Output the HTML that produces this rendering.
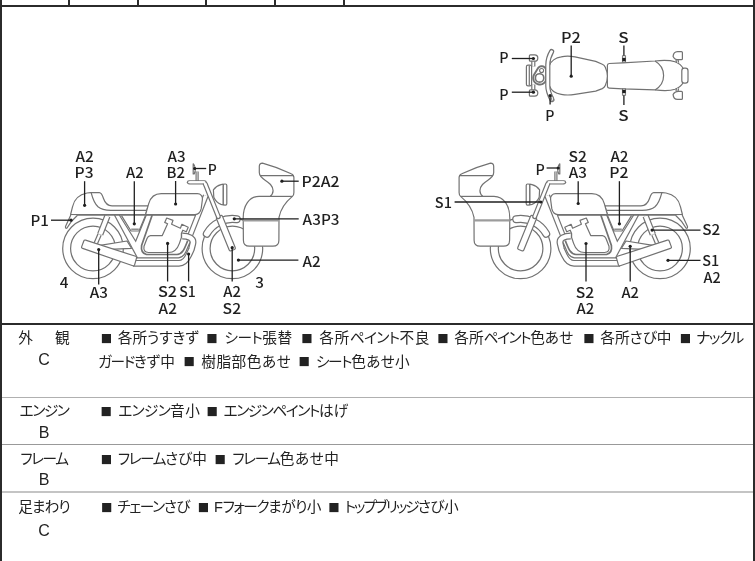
<!DOCTYPE html>
<html lang="ja">
<head>
<meta charset="utf-8">
<title>車両状態</title>
<style>
html,body{margin:0;padding:0;background:#fff;}
#page{position:absolute;left:0;top:0;width:755px;height:561px;will-change:transform;}
body{width:755px;height:561px;overflow:hidden;position:relative;font-family:"Liberation Sans","Noto Sans CJK JP",sans-serif;color:#222;}
.ln{position:absolute;background:#2b2b2b;}
.gl{position:absolute;background:#b0b0b0;height:1px;left:2px;width:751px;}
.row{position:absolute;left:0;width:755px;font-size:14.67px;line-height:23.5px;font-feature-settings:"palt";font-weight:400;}
.lab{position:absolute;left:2px;width:84px;text-align:center;}
.grade{position:absolute;left:3px;width:82px;text-align:center;font-size:16px;top:19.5px;}
.txt{position:absolute;left:0;top:0;width:755px;height:23.5px;white-space:nowrap;}
.seg{position:absolute;top:0;white-space:nowrap;}
.sq{font-family:"Noto Sans CJK JP",sans-serif;display:inline-block;width:14.67px;text-align:center;font-size:11.4px;line-height:12px;vertical-align:0.1px;font-feature-settings:normal;}
.k{letter-spacing:-1.4px;}
#dia{position:absolute;left:0;top:0;}
</style>
</head>
<body>
<div id="page">
<!-- frame lines -->
<div class="ln" style="left:0;top:0;width:2px;height:561px"></div>
<div class="ln" style="left:753px;top:0;width:2px;height:561px"></div>
<div class="ln" style="left:0;top:5px;width:755px;height:2px"></div>
<div class="ln" style="left:0;top:323px;width:755px;height:2px"></div>
<div class="ln" style="left:68px;top:0;width:2px;height:6px"></div>
<div class="ln" style="left:137px;top:0;width:2px;height:6px"></div>
<div class="ln" style="left:205px;top:0;width:2px;height:6px"></div>
<div class="ln" style="left:274px;top:0;width:2px;height:6px"></div>
<div class="ln" style="left:343px;top:0;width:2px;height:6px"></div>
<div class="gl" style="top:397px"></div>
<div class="gl" style="top:444px;background:#999"></div>
<div class="gl" style="top:491px;height:2px;background:#c4c4c4"></div>

<div class="row" style="top:327px">
  <div class="lab">外<span style="margin-left:22px">観</span></div>
  <div class="grade" style="top:20.5px">C</div>
  <div class="txt"><span class="seg" style="left:99.0px"><span class="sq">■</span> 各所うすきず</span><span class="seg" style="left:205.0px;letter-spacing:0.7px"><span class="sq">■</span> <span class="k" style="letter-spacing:-0.5px">シート</span>張替</span><span class="seg" style="left:300.0px;letter-spacing:0.6px"><span class="sq">■</span> 各所<span class="k" style="letter-spacing:-0.65px">ペイント</span>不良</span><span class="seg" style="left:435.6px"><span class="sq">■</span> 各所<span class="k">ペイント</span>色あせ</span><span class="seg" style="left:581.6px"><span class="sq">■</span> 各所さび中</span><span class="seg" style="left:678.0px;letter-spacing:-0.4px"><span class="sq">■</span> <span class="k">ナックル</span></span></div>
  <div class="txt" style="top:23.5px"><span class="seg" style="left:98.0px"><span class="k">ガード</span>きず中</span><span class="seg" style="left:182.0px;letter-spacing:0.5px"><span class="sq">■</span> 樹脂部色あせ</span><span class="seg" style="left:297.0px;letter-spacing:0.3px"><span class="sq">■</span> <span class="k">シート</span>色あせ小</span></div>
</div>
<div class="row" style="top:400px">
  <div class="lab"><span class="k">エンジン</span></div>
  <div class="grade" style="top:20.8px">B</div>
  <div class="txt"><span class="seg" style="left:99.0px;letter-spacing:0.5px"><span class="sq">■</span> <span class="k" style="letter-spacing:-0.65px">エンジン</span>音小</span><span class="seg" style="left:204.8px"><span class="sq">■</span> <span class="k">エンジンペイント</span>はげ</span></div>
</div>
<div class="row" style="top:448px">
  <div class="lab"><span class="k">フレーム</span></div>
  <div class="grade" style="top:19.5px">B</div>
  <div class="txt"><span class="seg" style="left:99.0px"><span class="sq">■</span> <span class="k">フレーム</span>さび中</span><span class="seg" style="left:213.2px;letter-spacing:0.5px"><span class="sq">■</span> <span class="k">フレーム</span>色あせ中</span></div>
</div>
<div class="row" style="top:496px">
  <div class="lab" style="letter-spacing:-0.9px">足まわり</div>
  <div class="grade" style="top:22.5px">C</div>
  <div class="txt"><span class="seg" style="left:99.0px;letter-spacing:-0.5px"><span class="sq">■</span> <span class="k">チェーン</span>さび</span><span class="seg" style="left:195.8px;letter-spacing:-0.5px"><span class="sq">■</span> F<span class="k">フォーク</span>まがり小</span><span class="seg" style="left:326.4px;letter-spacing:-0.45px"><span class="sq">■</span> <span class="k" style="letter-spacing:-2.0px">トップブリッジ</span>さび小</span></div>
</div>

<svg id="dia" width="755" height="323" viewBox="0 0 755 323" font-family="'Noto Sans CJK JP','Liberation Sans',sans-serif" font-weight="500" fill="#1f1f1f">
<g id="bikeL">
<circle cx="93" cy="248.4" r="30.3" fill="none" stroke="#727272" stroke-width="1.2"/>
<circle cx="93" cy="248.5" r="22.4" fill="none" stroke="#727272" stroke-width="1.2"/>
<circle cx="232.4" cy="248.4" r="30.3" fill="none" stroke="#727272" stroke-width="1.2"/>
<circle cx="232.4" cy="248.5" r="22.3" fill="none" stroke="#727272" stroke-width="1.2"/>
<path d="M100,245.3 L127,241 L131.5,248.3 L104,249.6 Z" fill="#fff" stroke="#727272" stroke-width="1.2" stroke-linejoin="round" />
<path d="M99.6,234.5 L95.5,244" fill="none" stroke="#727272" stroke-width="4.6" stroke-linecap="butt" stroke-linejoin="round"/>
<path d="M99.6,234.5 L95.5,244" fill="none" stroke="#fff" stroke-width="2.2" stroke-linecap="butt" stroke-linejoin="round"/>
<path d="M107.4,216 L100.2,234.3" fill="none" stroke="#727272" stroke-width="6.4" stroke-linecap="butt" stroke-linejoin="round"/>
<path d="M107.4,216 L100.2,234.3" fill="none" stroke="#fff" stroke-width="4.0" stroke-linecap="butt" stroke-linejoin="round"/>
<path d="M114.4,215 L137.5,258 L146,258 L146,254.5 Q141,253 141.4,246.3 L152.2,215 Z" fill="#fff" stroke="none" stroke-width="1.2" stroke-linejoin="round" />
<path d="M114.4,215 L137.5,258" fill="none" stroke="#727272" stroke-width="1.2" />
<path d="M119.3,215 L135.7,241.3 L146.3,215" fill="none" stroke="#727272" stroke-width="1.2" />
<path d="M121.5,215.6 L131,231 L139,231 L145.5,215.6" fill="#fff" stroke="#727272" stroke-width="1.2" stroke-linejoin="round" />
<path d="M131.2,229.2 L138.8,229.2" fill="none" stroke="#727272" stroke-width="1.2" />
<path d="M152.2,215 L141.6,245.5 Q140.5,253 146.5,254.5 L177,254.5 C183,254.5 185,247 187.7,240.7" fill="none" stroke="#727272" stroke-width="1.7" />
<path d="M150.5,235.6 L162.3,235.6 L167.6,223.8 L164.7,222.4 L166.7,218 L173,220.4 L171.6,224.3 L180.4,228.2 L181.9,224.3 L188.2,227.3 L186.3,231.7 L182.8,230.2 L181.4,233.6 L181.4,237.5 L179.4,243.4 C177.5,249 174,252.5 168.5,252.5 L148.5,252.5 Q143,252.3 144,246.3 L147,238.5 Q148,235.8 150.5,235.6 Z" fill="#fff" stroke="#727272" stroke-width="1.2" stroke-linejoin="round" />
<path d="M205.8,195.7 L190.3,235" fill="none" stroke="#727272" stroke-width="5.9" stroke-linecap="butt" stroke-linejoin="round"/>
<path d="M205.8,195.7 L190.3,235" fill="none" stroke="#fff" stroke-width="3.5" stroke-linecap="butt" stroke-linejoin="round"/>
<path d="M134,257.8 L178.5,257.8 C184,257.3 186,252 187.7,247.4 L189.9,242.6" fill="none" stroke="#727272" stroke-width="1.2" />
<path d="M182.2,236 C188,236 194,238 192.9,243.4 L191.4,249.3 L188.7,255.2 C186.5,260 184,263.3 179,263.3 L133,263.3" fill="none" stroke="#727272" stroke-width="6.8" stroke-linecap="butt" stroke-linejoin="round"/>
<path d="M182.2,236 C188,236 194,238 192.9,243.4 L191.4,249.3 L188.7,255.2 C186.5,260 184,263.3 179,263.3 L133,263.3" fill="none" stroke="#fff" stroke-width="4.3999999999999995" stroke-linecap="butt" stroke-linejoin="round"/>
<path d="M85.6,240.1 L135.6,256.3 Q136.9,256.8 136.5,258.2 L134.6,264.8 Q134.2,266.1 132.8,265.7 L82.6,248.4 Q81.2,247.9 81.7,246.6 L83.8,241 Q84.3,239.7 85.6,240.1 Z" fill="#fff" stroke="#727272" stroke-width="1.2" stroke-linejoin="round" />
<path d="M70.6,214.7 L196,214.7" fill="none" stroke="#727272" stroke-width="1.9" />
<path d="M70.8,215 L65.5,226.5 Q65.3,229 67,228 C69.5,223.5 72.5,219.5 77.5,215.2" fill="#fff" stroke="#727272" stroke-width="1.2" stroke-linejoin="round" />
<path d="M70.6,214.5 L72.5,206.8 C74,200 79,194.5 87,193 L90.6,192.7 L99.3,192.7 C101.5,192.7 102.5,195.5 103.5,198.5 C105,203 107,205.8 112,205.8 L148,205.8 L145.7,214.5 Z" fill="#fff" stroke="#727272" stroke-width="1.2" stroke-linejoin="round" />
<path d="M91.2,192.9 C92.5,198 94.5,203.5 98,206.8 C101,209.5 106,210.3 111,210.3 L146.5,210.3" fill="none" stroke="#727272" stroke-width="1.2" />
<path d="M145.6,214.6 L148.7,203.7 C150.5,197.5 154.5,193.7 161.2,193.7 L197.4,193.7 C200.5,193.7 203,196 202.4,199.5 L201.2,208.7 C200.5,212 198.5,214.5 195,214.7 Z" fill="#fff" stroke="#727272" stroke-width="1.2" stroke-linejoin="round" />
<path d="M206.85,233.65 A29.5,29.5 0 0 1 236.76,219.22" fill="none" stroke="#727272" stroke-width="8.1" stroke-linecap="round" stroke-linejoin="round"/>
<path d="M206.85,233.65 A29.5,29.5 0 0 1 236.76,219.22" fill="none" stroke="#fff" stroke-width="5.7" stroke-linecap="round" stroke-linejoin="round"/>
<path d="M213.4,189.8 C215,187.6 218,185.4 221,184.6 L223.3,184.1 L223.3,205 L221,204.4 C218,203.3 215.3,200.8 213.8,197.3 Z" fill="#fff" stroke="#727272" stroke-width="1.2" stroke-linejoin="round" />
<rect x="223.3" y="184" width="3.5" height="21.1" rx="1.4" fill="#fff" stroke="#727272" stroke-width="1.2"/>
<path d="M197.1,171.5 L197.1,181" fill="none" stroke="#727272" stroke-width="3.2" stroke-linecap="butt" stroke-linejoin="round"/>
<path d="M197.1,171.5 L197.1,181" fill="none" stroke="#fff" stroke-width="0.8" stroke-linecap="butt" stroke-linejoin="round"/>
<path d="M193.2,163.8 C195.8,166 195.8,171.5 194.2,174 L193.2,174 Z" fill="#fff" stroke="#727272" stroke-width="1.2" stroke-linejoin="round" />
<rect x="207.45" y="229.9" width="36.8" height="6.5" rx="1.6" fill="#fff" stroke="#727272" stroke-width="1.2" transform="rotate(67.8 225.85 233.15)"/>
<path d="M189,182.3 L204.6,182.3" fill="none" stroke="#727272" stroke-width="4.3" stroke-linecap="round" stroke-linejoin="round"/>
<path d="M189,182.3 L204.6,182.3" fill="none" stroke="#fff" stroke-width="1.9000000000000001" stroke-linecap="round" stroke-linejoin="round"/>
<path d="M205.3,184 L218.3,216.6" fill="none" stroke="#727272" stroke-width="5.0" stroke-linecap="round" stroke-linejoin="round"/>
<path d="M205.3,184 L218.3,216.6" fill="none" stroke="#fff" stroke-width="2.5999999999999996" stroke-linecap="round" stroke-linejoin="round"/>
<path d="M190,182.3 L204.2,182.3 L205.6,184.8" fill="none" stroke="#fff" stroke-width="1.9" stroke-linecap="round" stroke-linejoin="round"/>
<path d="M259.3,166.5 Q259.3,163.1 262.5,163.1 Q277,167 291.2,173.7 Q293.9,174.8 293.9,177.5 L293.9,192.4 Q293.9,195 292.4,196.4 C288,200 281,207 279,217.4 L278.9,240.2 Q278.9,246.2 272.9,246.2 L249.4,246.2 Q243.4,246.2 243.4,240.2 L243.2,218 C243.2,206 249,196.4 259,196.4 L270,196.4 C274,193.5 274,188.5 270.5,184.5 C266,179.5 259.3,178.5 259.3,172.5 Z" fill="#fff" stroke="#727272" stroke-width="1.2" stroke-linejoin="round" />
<path d="M260,175.6 L293.5,175.6" fill="none" stroke="#727272" stroke-width="1.2" />
<path d="M270,196.4 L292.4,196.4" fill="none" stroke="#727272" stroke-width="1.2" />
<path d="M243.4,220.3 L278.9,220.3" fill="none" stroke="#9c9c9c" stroke-width="2.2" />
</g>
<g transform="translate(753 0) scale(-1 1)">
<g id="bikeL">
<circle cx="93" cy="248.4" r="30.3" fill="none" stroke="#727272" stroke-width="1.2"/>
<circle cx="93" cy="248.5" r="22.4" fill="none" stroke="#727272" stroke-width="1.2"/>
<circle cx="232.4" cy="248.4" r="30.3" fill="none" stroke="#727272" stroke-width="1.2"/>
<circle cx="232.4" cy="248.5" r="22.3" fill="none" stroke="#727272" stroke-width="1.2"/>
<path d="M100,245.3 L127,241 L131.5,248.3 L104,249.6 Z" fill="#fff" stroke="#727272" stroke-width="1.2" stroke-linejoin="round" />
<path d="M99.6,234.5 L95.5,244" fill="none" stroke="#727272" stroke-width="4.6" stroke-linecap="butt" stroke-linejoin="round"/>
<path d="M99.6,234.5 L95.5,244" fill="none" stroke="#fff" stroke-width="2.2" stroke-linecap="butt" stroke-linejoin="round"/>
<path d="M107.4,216 L100.2,234.3" fill="none" stroke="#727272" stroke-width="6.4" stroke-linecap="butt" stroke-linejoin="round"/>
<path d="M107.4,216 L100.2,234.3" fill="none" stroke="#fff" stroke-width="4.0" stroke-linecap="butt" stroke-linejoin="round"/>
<path d="M114.4,215 L137.5,258 L146,258 L146,254.5 Q141,253 141.4,246.3 L152.2,215 Z" fill="#fff" stroke="none" stroke-width="1.2" stroke-linejoin="round" />
<path d="M114.4,215 L137.5,258" fill="none" stroke="#727272" stroke-width="1.2" />
<path d="M119.3,215 L135.7,241.3 L146.3,215" fill="none" stroke="#727272" stroke-width="1.2" />
<path d="M121.5,215.6 L131,231 L139,231 L145.5,215.6" fill="#fff" stroke="#727272" stroke-width="1.2" stroke-linejoin="round" />
<path d="M131.2,229.2 L138.8,229.2" fill="none" stroke="#727272" stroke-width="1.2" />
<path d="M152.2,215 L141.6,245.5 Q140.5,253 146.5,254.5 L177,254.5 C183,254.5 185,247 187.7,240.7" fill="none" stroke="#727272" stroke-width="1.7" />
<path d="M150.5,235.6 L162.3,235.6 L167.6,223.8 L164.7,222.4 L166.7,218 L173,220.4 L171.6,224.3 L180.4,228.2 L181.9,224.3 L188.2,227.3 L186.3,231.7 L182.8,230.2 L181.4,233.6 L181.4,237.5 L179.4,243.4 C177.5,249 174,252.5 168.5,252.5 L148.5,252.5 Q143,252.3 144,246.3 L147,238.5 Q148,235.8 150.5,235.6 Z" fill="#fff" stroke="#727272" stroke-width="1.2" stroke-linejoin="round" />
<path d="M205.8,195.7 L190.3,235" fill="none" stroke="#727272" stroke-width="5.9" stroke-linecap="butt" stroke-linejoin="round"/>
<path d="M205.8,195.7 L190.3,235" fill="none" stroke="#fff" stroke-width="3.5" stroke-linecap="butt" stroke-linejoin="round"/>
<path d="M134,257.8 L178.5,257.8 C184,257.3 186,252 187.7,247.4 L189.9,242.6" fill="none" stroke="#727272" stroke-width="1.2" />
<path d="M182.2,236 C188,236 194,238 192.9,243.4 L191.4,249.3 L188.7,255.2 C186.5,260 184,263.3 179,263.3 L133,263.3" fill="none" stroke="#727272" stroke-width="6.8" stroke-linecap="butt" stroke-linejoin="round"/>
<path d="M182.2,236 C188,236 194,238 192.9,243.4 L191.4,249.3 L188.7,255.2 C186.5,260 184,263.3 179,263.3 L133,263.3" fill="none" stroke="#fff" stroke-width="4.3999999999999995" stroke-linecap="butt" stroke-linejoin="round"/>
<path d="M85.6,240.1 L135.6,256.3 Q136.9,256.8 136.5,258.2 L134.6,264.8 Q134.2,266.1 132.8,265.7 L82.6,248.4 Q81.2,247.9 81.7,246.6 L83.8,241 Q84.3,239.7 85.6,240.1 Z" fill="#fff" stroke="#727272" stroke-width="1.2" stroke-linejoin="round" />
<path d="M70.6,214.7 L196,214.7" fill="none" stroke="#727272" stroke-width="1.9" />
<path d="M70.8,215 L65.5,226.5 Q65.3,229 67,228 C69.5,223.5 72.5,219.5 77.5,215.2" fill="#fff" stroke="#727272" stroke-width="1.2" stroke-linejoin="round" />
<path d="M70.6,214.5 L72.5,206.8 C74,200 79,194.5 87,193 L90.6,192.7 L99.3,192.7 C101.5,192.7 102.5,195.5 103.5,198.5 C105,203 107,205.8 112,205.8 L148,205.8 L145.7,214.5 Z" fill="#fff" stroke="#727272" stroke-width="1.2" stroke-linejoin="round" />
<path d="M91.2,192.9 C92.5,198 94.5,203.5 98,206.8 C101,209.5 106,210.3 111,210.3 L146.5,210.3" fill="none" stroke="#727272" stroke-width="1.2" />
<path d="M145.6,214.6 L148.7,203.7 C150.5,197.5 154.5,193.7 161.2,193.7 L197.4,193.7 C200.5,193.7 203,196 202.4,199.5 L201.2,208.7 C200.5,212 198.5,214.5 195,214.7 Z" fill="#fff" stroke="#727272" stroke-width="1.2" stroke-linejoin="round" />
<path d="M206.85,233.65 A29.5,29.5 0 0 1 236.76,219.22" fill="none" stroke="#727272" stroke-width="8.1" stroke-linecap="round" stroke-linejoin="round"/>
<path d="M206.85,233.65 A29.5,29.5 0 0 1 236.76,219.22" fill="none" stroke="#fff" stroke-width="5.7" stroke-linecap="round" stroke-linejoin="round"/>
<path d="M213.4,189.8 C215,187.6 218,185.4 221,184.6 L223.3,184.1 L223.3,205 L221,204.4 C218,203.3 215.3,200.8 213.8,197.3 Z" fill="#fff" stroke="#727272" stroke-width="1.2" stroke-linejoin="round" />
<rect x="223.3" y="184" width="3.5" height="21.1" rx="1.4" fill="#fff" stroke="#727272" stroke-width="1.2"/>
<path d="M197.1,171.5 L197.1,181" fill="none" stroke="#727272" stroke-width="3.2" stroke-linecap="butt" stroke-linejoin="round"/>
<path d="M197.1,171.5 L197.1,181" fill="none" stroke="#fff" stroke-width="0.8" stroke-linecap="butt" stroke-linejoin="round"/>
<path d="M193.2,163.8 C195.8,166 195.8,171.5 194.2,174 L193.2,174 Z" fill="#fff" stroke="#727272" stroke-width="1.2" stroke-linejoin="round" />
<rect x="207.45" y="229.9" width="36.8" height="6.5" rx="1.6" fill="#fff" stroke="#727272" stroke-width="1.2" transform="rotate(67.8 225.85 233.15)"/>
<path d="M189,182.3 L204.6,182.3" fill="none" stroke="#727272" stroke-width="4.3" stroke-linecap="round" stroke-linejoin="round"/>
<path d="M189,182.3 L204.6,182.3" fill="none" stroke="#fff" stroke-width="1.9000000000000001" stroke-linecap="round" stroke-linejoin="round"/>
<path d="M205.3,184 L218.3,216.6" fill="none" stroke="#727272" stroke-width="5.0" stroke-linecap="round" stroke-linejoin="round"/>
<path d="M205.3,184 L218.3,216.6" fill="none" stroke="#fff" stroke-width="2.5999999999999996" stroke-linecap="round" stroke-linejoin="round"/>
<path d="M190,182.3 L204.2,182.3 L205.6,184.8" fill="none" stroke="#fff" stroke-width="1.9" stroke-linecap="round" stroke-linejoin="round"/>
<path d="M259.3,166.5 Q259.3,163.1 262.5,163.1 Q277,167 291.2,173.7 Q293.9,174.8 293.9,177.5 L293.9,192.4 Q293.9,195 292.4,196.4 C288,200 281,207 279,217.4 L278.9,240.2 Q278.9,246.2 272.9,246.2 L249.4,246.2 Q243.4,246.2 243.4,240.2 L243.2,218 C243.2,206 249,196.4 259,196.4 L270,196.4 C274,193.5 274,188.5 270.5,184.5 C266,179.5 259.3,178.5 259.3,172.5 Z" fill="#fff" stroke="#727272" stroke-width="1.2" stroke-linejoin="round" />
<path d="M260,175.6 L293.5,175.6" fill="none" stroke="#727272" stroke-width="1.2" />
<path d="M270,196.4 L292.4,196.4" fill="none" stroke="#727272" stroke-width="1.2" />
<path d="M243.4,220.3 L278.9,220.3" fill="none" stroke="#9c9c9c" stroke-width="2.2" />
</g>
</g>
<g id="bikeT">
<path d="M609.2,63.5 L622.8,62.8 L655,61 C662,60.2 670,60.2 675,61.8 C679,63.2 682,66 683.7,69.3 L683.7,81.8 C682,85 679,87.9 675,89.3 C670,90.9 662,90.7 655,89.9 L622.8,88.9 L609.2,88.1 Q607.4,88 607.4,86 L607.4,65.5 Q607.4,63.6 609.2,63.5 Z" fill="#fff" stroke="#727272" stroke-width="1.2" stroke-linejoin="round" />
<path d="M655,61 C661,64.5 663.6,70 663.6,75.5 C663.6,81 661,86.5 655,89.9" fill="none" stroke="#727272" stroke-width="1.2" />
<rect x="681.8" y="68.1" width="6.2" height="15" rx="2.6" fill="#fff" stroke="#727272" stroke-width="1.2"/>
<path d="M677,59.7 L677.6,62.8" fill="none" stroke="#727272" stroke-width="3.2" stroke-linecap="butt" stroke-linejoin="round"/>
<path d="M677,59.7 L677.6,62.8" fill="none" stroke="#fff" stroke-width="0.8" stroke-linecap="butt" stroke-linejoin="round"/>
<path d="M673.1,56.4 C673.3,54.0 674.5,51.7 677.5,51.6 L681.4,51.6 Q682.4,51.6 682.4,52.6 L682.4,58.7 Q682.4,59.7 681.4,59.7 L678.5,59.7 C676,59.7 674,58.5 673.1,56.4 Z" fill="#fff" stroke="#727272" stroke-width="1.2" stroke-linejoin="round" />
<path d="M677,91.3 L677.6,88.2" fill="none" stroke="#727272" stroke-width="3.2" stroke-linecap="butt" stroke-linejoin="round"/>
<path d="M677,91.3 L677.6,88.2" fill="none" stroke="#fff" stroke-width="0.8" stroke-linecap="butt" stroke-linejoin="round"/>
<path d="M673.1,94.6 C673.3,97.0 674.5,99.3 677.5,99.4 L681.4,99.4 Q682.4,99.4 682.4,98.4 L682.4,92.3 Q682.4,91.3 681.4,91.3 L678.5,91.3 C676,91.3 674,92.5 673.1,94.6 Z" fill="#fff" stroke="#727272" stroke-width="1.2" stroke-linejoin="round" />
<rect x="622.4" y="55.8" width="3.2" height="6.5" fill="#fff" stroke="#727272" stroke-width="0.9"/>
<rect x="622.3" y="57.8" width="3.4" height="3.5" fill="#1f1f1f"/>
<rect x="622.4" y="88.7" width="3.2" height="6.5" fill="#fff" stroke="#727272" stroke-width="0.9"/>
<rect x="622.3" y="89.7" width="3.4" height="3.5" fill="#1f1f1f"/>
<path d="M549.4,65.5 C551,60.8 556,57.5 561.2,56.8 C565,56 570,56 575,56.8 L595.7,61.4 L602.3,64.2 Q604.4,65.1 605.3,67.2 C606.8,70.5 607.4,73 607.4,76 C607.4,79.5 606.8,82.3 605.3,85.6 Q604.4,87.7 602.3,88.6 L595.7,91.1 L575,94.4 C570,95.2 565,95.2 561.2,94.3 C556,93.6 551,90.5 549.4,85.8 C548,80 548,71 549.4,65.5 Z" fill="#fff" stroke="#727272" stroke-width="1.2" stroke-linejoin="round" />
<path d="M533.3,61.0 L533.3,66.5" fill="none" stroke="#727272" stroke-width="4.2" stroke-linecap="butt" stroke-linejoin="round"/>
<path d="M533.3,61.0 L533.3,66.5" fill="none" stroke="#fff" stroke-width="1.8" stroke-linecap="butt" stroke-linejoin="round"/>
<path d="M529.4,55.8 Q529.4,54.8 530.4,54.8 L534.6,54.8 C536.8,54.8 537.8,56.3 537.8,57.9 C537.8,59.6 536.8,61.2 534.6,61.2 L530.4,61.2 Q529.4,61.2 529.4,60.2 Z" fill="#fff" stroke="#727272" stroke-width="1.2" stroke-linejoin="round" />
<path d="M533.3,90.0 L533.3,84.5" fill="none" stroke="#727272" stroke-width="4.2" stroke-linecap="butt" stroke-linejoin="round"/>
<path d="M533.3,90.0 L533.3,84.5" fill="none" stroke="#fff" stroke-width="1.8" stroke-linecap="butt" stroke-linejoin="round"/>
<path d="M529.4,95.2 Q529.4,96.2 530.4,96.2 L534.6,96.2 C536.8,96.2 537.8,94.7 537.8,93.1 C537.8,91.4 536.8,89.8 534.6,89.8 L530.4,89.8 Q529.4,89.8 529.4,90.8 Z" fill="#fff" stroke="#727272" stroke-width="1.2" stroke-linejoin="round" />
<rect x="526.4" y="65.2" width="5.2" height="20.6" rx="1.6" fill="#fff" stroke="#727272" stroke-width="1.2"/>
<path d="M529.3,65.6 L529.3,85.4" fill="none" stroke="#727272" stroke-width="1.2" />
<path d="M546.39,77.63 L546.36,78.65 L546.16,79.66 L545.81,80.62 L545.32,81.52 L544.69,82.33 L543.94,83.04 L543.10,83.62 L542.17,84.06 L541.19,84.35 L540.17,84.49 L539.15,84.47 L538.14,84.29 L537.17,83.95 L536.26,83.47 L535.44,82.86 L534.73,82.12 L534.13,81.28 L533.68,80.37 L533.37,79.39 L533.22,78.37 L533.22,77.35 L533.39,76.33 L533.71,75.36 L534.18,74.45 L537.95,68.30 L538.22,67.91 L538.52,67.56 L538.86,67.24 L539.23,66.96 L539.63,66.72 L540.06,66.52 L540.50,66.37 L540.95,66.26 L541.42,66.21 L541.89,66.20 L542.35,66.25 L542.81,66.34 L543.25,66.48 L543.68,66.67 L544.09,66.90 L544.47,67.18 L544.81,67.49 L545.12,67.84 L545.40,68.22 L545.63,68.62 L545.82,69.05 L545.96,69.50 L546.05,69.95 L546.10,70.42 Z" fill="#fff" stroke="#727272" stroke-width="1.9" stroke-linejoin="round" />
<circle cx="541.6" cy="70.5" r="2" fill="#fff" stroke="#727272" stroke-width="1.1"/>
<circle cx="539.6" cy="77.9" r="4.2" fill="#fff" stroke="#727272" stroke-width="1.6"/>
<path d="M551.6,51.6 C549.6,55 547.8,60 547.8,65 L547.8,86 C547.8,91 549.6,95 551.9,99.6" fill="none" stroke="#727272" stroke-width="5.2" stroke-linecap="round" stroke-linejoin="round"/>
<path d="M551.6,51.6 C549.6,55 547.8,60 547.8,65 L547.8,86 C547.8,91 549.6,95 551.9,99.6" fill="none" stroke="#fff" stroke-width="2.8" stroke-linecap="round" stroke-linejoin="round"/>
<path d="M551,96.3 L553.2,96.8 L553.6,100.6 L552,101.2 Z" fill="#fff" stroke="#727272" stroke-width="0.9" stroke-linejoin="round" />
</g>
<path d="M84.6,205.3 L84.6,181.2" fill="none" stroke="#1f1f1f" stroke-width="1.3"/>
<circle cx="84.6" cy="205.3" r="1.6" fill="#1f1f1f"/>
<path d="M134.3,223.8 L134.3,181.2" fill="none" stroke="#1f1f1f" stroke-width="1.3"/>
<circle cx="134.3" cy="223.8" r="1.6" fill="#1f1f1f"/>
<path d="M175.6,204 L175.6,181" fill="none" stroke="#1f1f1f" stroke-width="1.3"/>
<circle cx="175.6" cy="204" r="1.6" fill="#1f1f1f"/>
<path d="M194.7,168.5 L206.2,168.5" fill="none" stroke="#1f1f1f" stroke-width="1.3"/>
<circle cx="194.7" cy="168.5" r="1.6" fill="#1f1f1f"/>
<path d="M281.9,181.2 L298.7,181.2" fill="none" stroke="#1f1f1f" stroke-width="1.3"/>
<circle cx="281.9" cy="181.2" r="1.6" fill="#1f1f1f"/>
<path d="M234.3,218.8 L298.7,218.8" fill="none" stroke="#1f1f1f" stroke-width="1.3"/>
<circle cx="234.3" cy="218.8" r="1.6" fill="#1f1f1f"/>
<path d="M238.4,260.1 L298.4,260.1" fill="none" stroke="#1f1f1f" stroke-width="1.3"/>
<circle cx="238.4" cy="260.1" r="1.6" fill="#1f1f1f"/>
<path d="M71,220.2 L51,220.2" fill="none" stroke="#1f1f1f" stroke-width="1.3"/>
<circle cx="71" cy="220.2" r="1.6" fill="#1f1f1f"/>
<path d="M98.7,249.6 L98.7,284.5" fill="none" stroke="#1f1f1f" stroke-width="1.3"/>
<circle cx="98.7" cy="249.6" r="1.6" fill="#1f1f1f"/>
<path d="M167.6,243.4 L167.6,281.5" fill="none" stroke="#1f1f1f" stroke-width="1.3"/>
<circle cx="167.6" cy="243.4" r="1.6" fill="#1f1f1f"/>
<path d="M188.6,254 L188.6,281.5" fill="none" stroke="#1f1f1f" stroke-width="1.3"/>
<circle cx="188.6" cy="254" r="1.6" fill="#1f1f1f"/>
<path d="M232.2,247.7 L232.2,281.4" fill="none" stroke="#1f1f1f" stroke-width="1.3"/>
<circle cx="232.2" cy="247.7" r="1.6" fill="#1f1f1f"/>
<path d="M558.2,168 L546.6,168" fill="none" stroke="#1f1f1f" stroke-width="1.3"/>
<circle cx="558.2" cy="168" r="1.6" fill="#1f1f1f"/>
<path d="M578.2,203.5 L578.2,181.2" fill="none" stroke="#1f1f1f" stroke-width="1.3"/>
<circle cx="578.2" cy="203.5" r="1.6" fill="#1f1f1f"/>
<path d="M619.4,223.8 L619.4,181.2" fill="none" stroke="#1f1f1f" stroke-width="1.3"/>
<circle cx="619.4" cy="223.8" r="1.6" fill="#1f1f1f"/>
<path d="M540.8,202 L454.6,202" fill="none" stroke="#1f1f1f" stroke-width="1.3"/>
<circle cx="540.8" cy="202" r="1.6" fill="#1f1f1f"/>
<path d="M652.1,230.1 L700.5,230.1" fill="none" stroke="#1f1f1f" stroke-width="1.3"/>
<circle cx="652.1" cy="230.1" r="1.6" fill="#1f1f1f"/>
<path d="M668,260.3 L700.5,260.3" fill="none" stroke="#1f1f1f" stroke-width="1.3"/>
<circle cx="668" cy="260.3" r="1.6" fill="#1f1f1f"/>
<path d="M586,243.5 L586,281.5" fill="none" stroke="#1f1f1f" stroke-width="1.3"/>
<circle cx="586" cy="243.5" r="1.6" fill="#1f1f1f"/>
<path d="M630.2,246.3 L630.2,281.5" fill="none" stroke="#1f1f1f" stroke-width="1.3"/>
<circle cx="630.2" cy="246.3" r="1.6" fill="#1f1f1f"/>
<path d="M533.4,58.5 L511.8,58.5" fill="none" stroke="#1f1f1f" stroke-width="1.3"/>
<circle cx="533.4" cy="58.5" r="1.6" fill="#1f1f1f"/>
<path d="M533.4,92.2 L511.8,92.2" fill="none" stroke="#1f1f1f" stroke-width="1.3"/>
<circle cx="533.4" cy="92.2" r="1.6" fill="#1f1f1f"/>
<path d="M550.1,95.5 L550.1,104.4" fill="none" stroke="#1f1f1f" stroke-width="1.3"/>
<circle cx="550.1" cy="95.5" r="1.6" fill="#1f1f1f"/>
<path d="M571.2,76.2 L571.2,45.5" fill="none" stroke="#1f1f1f" stroke-width="1.3"/>
<circle cx="571.2" cy="76.2" r="1.6" fill="#1f1f1f"/>
<path d="M623.9,45.5 L623.9,55.8" fill="none" stroke="#1f1f1f" stroke-width="1.3"/>
<path d="M623.9,95.3 L623.9,105" fill="none" stroke="#1f1f1f" stroke-width="1.3"/>
<text x="75.54" y="161.9" font-size="14.2" textLength="18.35" lengthAdjust="spacingAndGlyphs">A2</text>
<text x="74.58" y="178.0" font-size="14.2" textLength="19.01" lengthAdjust="spacingAndGlyphs">P3</text>
<text x="126.14" y="178.0" font-size="14.2" textLength="17.62" lengthAdjust="spacingAndGlyphs">A2</text>
<text x="167.44" y="162.1" font-size="14.2" textLength="18.14" lengthAdjust="spacingAndGlyphs">A3</text>
<text x="166.56" y="177.8" font-size="14.2" textLength="18.51" lengthAdjust="spacingAndGlyphs">B2</text>
<text x="207.86" y="175.2" font-size="14.2" textLength="9.04" lengthAdjust="spacingAndGlyphs">P</text>
<text x="301.47" y="187.4" font-size="14.2" textLength="38.04" lengthAdjust="spacingAndGlyphs">P2A2</text>
<text x="302.64" y="225.4" font-size="14.2" textLength="36.94" lengthAdjust="spacingAndGlyphs">A3P3</text>
<text x="302.64" y="266.7" font-size="14.2" textLength="18.14" lengthAdjust="spacingAndGlyphs">A2</text>
<text x="30.54" y="226.4" font-size="14.2" textLength="18.37" lengthAdjust="spacingAndGlyphs">P1</text>
<text x="59.69" y="288.0" font-size="14.2" textLength="8.70" lengthAdjust="spacingAndGlyphs">4</text>
<text x="89.74" y="297.8" font-size="14.2" textLength="18.24" lengthAdjust="spacingAndGlyphs">A3</text>
<text x="157.90" y="297.3" font-size="14.2" textLength="19.13" lengthAdjust="spacingAndGlyphs">S2</text>
<text x="179.21" y="297.3" font-size="14.2" textLength="16.52" lengthAdjust="spacingAndGlyphs">S1</text>
<text x="158.64" y="313.8" font-size="14.2" textLength="18.35" lengthAdjust="spacingAndGlyphs">A2</text>
<text x="223.34" y="297.4" font-size="14.2" textLength="17.72" lengthAdjust="spacingAndGlyphs">A2</text>
<text x="222.63" y="313.9" font-size="14.2" textLength="18.47" lengthAdjust="spacingAndGlyphs">S2</text>
<text x="255.34" y="288.0" font-size="14.2" textLength="8.74" lengthAdjust="spacingAndGlyphs">3</text>
<text x="535.42" y="175.0" font-size="14.2" textLength="9.30" lengthAdjust="spacingAndGlyphs">P</text>
<text x="568.43" y="162.1" font-size="14.2" textLength="18.36" lengthAdjust="spacingAndGlyphs">S2</text>
<text x="568.74" y="177.8" font-size="14.2" textLength="18.14" lengthAdjust="spacingAndGlyphs">A3</text>
<text x="610.44" y="162.1" font-size="14.2" textLength="18.04" lengthAdjust="spacingAndGlyphs">A2</text>
<text x="609.26" y="177.8" font-size="14.2" textLength="19.25" lengthAdjust="spacingAndGlyphs">P2</text>
<text x="434.89" y="208.3" font-size="14.2" textLength="17.08" lengthAdjust="spacingAndGlyphs">S1</text>
<text x="702.25" y="235.3" font-size="14.2" textLength="18.04" lengthAdjust="spacingAndGlyphs">S2</text>
<text x="702.29" y="266.4" font-size="14.2" textLength="16.97" lengthAdjust="spacingAndGlyphs">S1</text>
<text x="703.44" y="282.9" font-size="14.2" textLength="17.20" lengthAdjust="spacingAndGlyphs">A2</text>
<text x="575.83" y="297.8" font-size="14.2" textLength="18.47" lengthAdjust="spacingAndGlyphs">S2</text>
<text x="576.54" y="314.0" font-size="14.2" textLength="17.72" lengthAdjust="spacingAndGlyphs">A2</text>
<text x="621.44" y="297.8" font-size="14.2" textLength="17.51" lengthAdjust="spacingAndGlyphs">A2</text>
<text x="499.22" y="62.7" font-size="14.2" textLength="9.30" lengthAdjust="spacingAndGlyphs">P</text>
<text x="499.22" y="99.8" font-size="14.2" textLength="9.30" lengthAdjust="spacingAndGlyphs">P</text>
<text x="545.24" y="121.2" font-size="14.2" textLength="9.17" lengthAdjust="spacingAndGlyphs">P</text>
<text x="561.02" y="42.8" font-size="14.2" textLength="19.82" lengthAdjust="spacingAndGlyphs">P2</text>
<text x="618.16" y="42.8" font-size="14.2" textLength="10.39" lengthAdjust="spacingAndGlyphs">S</text>
<text x="618.16" y="120.7" font-size="14.2" textLength="10.39" lengthAdjust="spacingAndGlyphs">S</text>
</svg>
</div>
</body>
</html>
